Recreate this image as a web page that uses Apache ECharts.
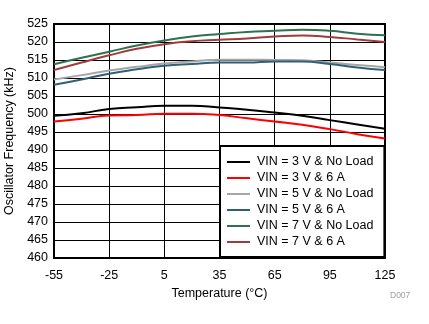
<!DOCTYPE html>
<html>
<head>
<meta charset="utf-8">
<script src="https://cdn.jsdelivr.net/npm/echarts@6/dist/echarts.min.js"></script>
<style>
  html, body { margin: 0; padding: 0; background: #fff; }
  #chart { width: 429px; height: 324px; }
</style>
</head>
<body>
<div id="chart"></div>
<script>
// Oscillator frequency versus junction temperature
const temperatures = [-55, -40, -25, -10, 5, 20, 35, 50, 65, 80, 95, 110, 125];

const vin3NoLoad = [499.5, 500.2, 501.4, 501.9, 502.3, 502.3, 501.8, 501.2, 500.4, 499.5, 498.3, 497.1, 495.9];
const vin3Load6A = [497.9, 498.7, 499.6, 499.7, 500.1, 500.1, 499.7, 498.8, 497.9, 497.0, 495.8, 494.4, 493.2];
const vin5NoLoad = [509.6, 510.8, 512.1, 513.1, 514.0, 514.6, 515.1, 515.1, 515.0, 514.9, 514.3, 513.6, 513.0];
const vin5Load6A = [508.1, 509.6, 511.2, 512.4, 513.4, 513.9, 514.3, 514.3, 514.6, 514.6, 513.9, 512.9, 512.2];
const vin7NoLoad = [513.8, 515.6, 517.3, 519.0, 520.4, 521.5, 522.2, 522.8, 523.1, 523.4, 523.1, 522.3, 521.9];
const vin7Load6A = [512.2, 514.3, 516.3, 518.1, 519.4, 520.2, 520.6, 521.0, 521.5, 521.8, 521.4, 520.7, 520.0];

const seriesNames = [
  'VIN = 3 V & No Load',
  'VIN = 3 V & 6 A',
  'VIN = 5 V & No Load',
  'VIN = 5 V & 6 A',
  'VIN = 7 V & No Load',
  'VIN = 7 V & 6 A'
];
const seriesValues = [vin3NoLoad, vin3Load6A, vin5NoLoad, vin5Load6A, vin7NoLoad, vin7Load6A];
const seriesColors = ['#000000', '#ff0000', '#a6a6a6', '#2f6078', '#2e7050', '#a03c3c'];

const FONT = '"Liberation Sans", Arial, sans-serif';

const chart = echarts.init(document.getElementById('chart'), null, { renderer: 'canvas' });

chart.setOption({
  animation: false,
  backgroundColor: '#ffffff',
  grid: {
    left: 54, top: 24, right: 44, bottom: 66,
    containLabel: false,
    outerBoundsMode: 'none',
    show: true, borderColor: '#000', borderWidth: 2, backgroundColor: 'transparent'
  },
  xAxis: {
    type: 'value',
    min: -55, max: 125, interval: 30,
    name: 'Temperature (°C)',
    nameLocation: 'middle',
    nameGap: 23,
    nameTextStyle: { fontFamily: FONT, fontSize: 12.5, color: '#000' },
    axisLine: { show: true, onZero: false, lineStyle: { color: '#000', width: 2 } },
    axisTick: { show: false },
    axisLabel: { fontFamily: FONT, fontSize: 12.5, color: '#000', margin: 11 },
    splitLine: { show: true, lineStyle: { color: '#000', width: 1 } }
  },
  yAxis: {
    type: 'value',
    min: 460, max: 525, interval: 5,
    name: 'Oscillator Frequency (kHz)',
    nameLocation: 'middle',
    nameGap: 37,
    nameTextStyle: { fontFamily: FONT, fontSize: 12.5, color: '#000' },
    axisLine: { show: true, onZero: false, lineStyle: { color: '#000', width: 2 } },
    axisTick: { show: false },
    axisLabel: { fontFamily: FONT, fontSize: 12.5, color: '#000', margin: 6 },
    splitLine: { show: true, lineStyle: { color: '#000', width: 1 } }
  },
  legend: {
    orient: 'vertical',
    left: 220, top: 146,
    padding: [9, 11, 8, 7],
    icon: 'rect',
    itemWidth: 23, itemHeight: 2, itemGap: 2,
    backgroundColor: '#fff',
    borderColor: '#000', borderWidth: 2, borderRadius: 0,
    textStyle: { fontFamily: FONT, fontSize: 12.5, lineHeight: 14, color: '#000', padding: [0, 0, 0, 2] },
    data: seriesNames
  },
  graphic: [{
    type: 'text',
    left: 390, top: 291,
    style: { text: 'D007', fontFamily: FONT, fontSize: 8.5, fill: '#a0a0a0' }
  }],
  series: seriesNames.map((name, i) => ({
    name: name,
    type: 'line',
    smooth: true,
    symbol: 'none',
    data: temperatures.map((t, j) => [t, seriesValues[i][j]]),
    lineStyle: { color: seriesColors[i], width: 2 },
    itemStyle: { color: seriesColors[i] }
  }))
});
</script>
</body>
</html>
